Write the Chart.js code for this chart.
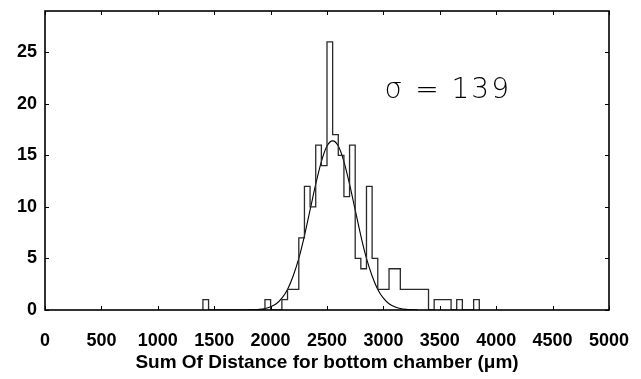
<!DOCTYPE html>
<html>
<head>
<meta charset="utf-8">
<script src="https://cdn.jsdelivr.net/npm/chart.js@4"></script>
<style>
  html, body { margin: 0; padding: 0; background: #fff; }
  #wrap { width: 641px; height: 379px; }
</style>
</head>
<body>
<div id="wrap"><canvas id="c" width="641" height="379"></canvas></div>
<script>
// Histogram of summed distances, 50 µm bins starting at 1400 µm
const binStart = 1400;
const binWidth = 50;
const counts = [1, 0, 0, 0, 0, 0, 0, 0, 0, 0, 0, 1, 0, 0, 1, 2, 2, 7, 12, 10,
                16, 14, 26, 17, 15, 11, 16, 5, 4, 12, 5, 2, 2, 4, 4, 2, 2, 2, 2, 2,
                0, 1, 1, 1, 0, 1, 0, 0, 1];

// Fitted Gaussian curve, sampled every 50 µm
const fitX = [1800, 1850, 1900, 1950, 2000, 2050, 2100, 2150, 2200, 2250, 2300,
              2350, 2400, 2450, 2500, 2550, 2600, 2650, 2700, 2750, 2800, 2850,
              2900, 2950, 3000, 3050, 3100, 3150, 3200, 3250, 3300];
const fitY = [0.01, 0.03, 0.06, 0.14, 0.31, 0.61, 1.15, 2.0, 3.3, 5.0, 7.2,
              9.7, 12.2, 14.4, 15.9, 16.4, 15.9, 14.4, 12.2, 9.7, 7.2, 5.0,
              3.3, 2.0, 1.15, 0.61, 0.31, 0.14, 0.06, 0.03, 0.01];

const sigmaLabel = 'σ = 139';
const xTitle = 'Sum Of Distance for bottom chamber (μm)';

// Outline points for the stepped histogram (left bin edges)
const histPoints = [{ x: binStart, y: 0 }];
counts.forEach((c, i) => histPoints.push({ x: binStart + i * binWidth, y: c }));
histPoints.push({ x: binStart + counts.length * binWidth, y: 0 });

const fitPoints = fitX.map((x, i) => ({ x, y: fitY[i] }));

const tickFont = { family: '"Liberation Sans", Arial, sans-serif', size: 18, weight: 'bold' };

// Box frame with inward ticks on all four sides, plus the sigma annotation
const framePlugin = {
  id: 'frame',
  afterDatasetsDraw(chart) {
    const { ctx, chartArea: a, scales: { x, y } } = chart;
    ctx.save();
    ctx.strokeStyle = '#000';
    ctx.lineWidth = 1.6;
    ctx.strokeRect(a.left, a.top, a.right - a.left, a.bottom - a.top);
    ctx.lineWidth = 1;
    const tl = 4;
    ctx.beginPath();
    x.ticks.forEach(t => {
      const px = Math.round(x.getPixelForValue(t.value)) + 0.5;
      ctx.moveTo(px, a.bottom); ctx.lineTo(px, a.bottom - tl);
      ctx.moveTo(px, a.top); ctx.lineTo(px, a.top + tl);
    });
    y.ticks.forEach(t => {
      const py = Math.round(y.getPixelForValue(t.value)) + 0.5;
      ctx.moveTo(a.left, py); ctx.lineTo(a.left + tl, py);
      ctx.moveTo(a.right, py); ctx.lineTo(a.right - tl, py);
    });
    ctx.stroke();

    ctx.fillStyle = '#000';
    ctx.font = '200 28px "DejaVu Sans", sans-serif';
    ctx.letterSpacing = '2px';
    ctx.textAlign = 'left';
    ctx.textBaseline = 'alphabetic';
    ctx.fillText(sigmaLabel, x.getPixelForValue(3010), y.getPixelForValue(20.6));
    ctx.restore();
  }
};

new Chart(document.getElementById('c'), {
  type: 'scatter',
  data: {
    datasets: [
      {
        data: histPoints,
        showLine: true,
        stepped: 'before',
        borderColor: '#2a2a2a',
        borderWidth: 1.3,
        pointRadius: 0,
        fill: false
      },
      {
        data: fitPoints,
        showLine: true,
        cubicInterpolationMode: 'monotone',
        borderColor: '#000',
        borderWidth: 1.1,
        pointRadius: 0,
        fill: false
      }
    ]
  },
  options: {
    responsive: false,
    animation: false,
    layout: { padding: { left: 0, right: 32, top: 11, bottom: 0 } },
    plugins: { legend: { display: false }, tooltip: { enabled: false } },
    scales: {
      x: {
        type: 'linear',
        min: 0, max: 5000,
        grid: { display: false, drawTicks: false },
        border: { display: false },
        ticks: {
          stepSize: 500, color: '#000', font: tickFont, padding: 20,
          maxRotation: 0, autoSkip: false,
          callback: v => String(v)
        },
        title: {
          display: true, text: xTitle, color: '#000',
          font: { family: '"Liberation Sans", Arial, sans-serif', size: 19, weight: 'bold' },
          padding: { top: 0, bottom: 5 }
        },
        afterFit(s) { s.height = 69; s.paddingLeft = 0; s.paddingRight = 0; }
      },
      y: {
        type: 'linear',
        min: 0, max: 29,
        grid: { display: false, drawTicks: false },
        border: { display: false },
        ticks: {
          stepSize: 5, includeBounds: false, color: '#000', font: tickFont, padding: 8,
          callback: v => String(v)
        },
        afterFit(s) { s.width = 45; s.paddingTop = 0; s.paddingBottom = 0; }
      }
    }
  },
  plugins: [framePlugin]
});
</script>
</body>
</html>
